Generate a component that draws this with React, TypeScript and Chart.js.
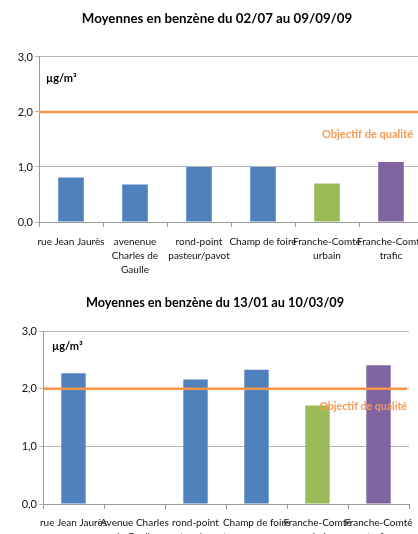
import React, { useEffect, useRef } from "react";
import { Chart, registerables } from "chart.js";

Chart.register(...registerables);

// ---------- data ----------
const TITLE_1 = "Moyennes en benzène du 02/07 au 09/09/09";
const CATEGORIES_1: string[][] = [
  ["rue Jean Jaurès"],
  ["avenenue", "Charles de", "Gaulle"],
  ["rond-point", "pasteur/pavot"],
  ["Champ de foire"],
  ["Franche-Comté", "urbain"],
  ["Franche-Comté", "trafic"],
];
const VALUES_1: (number | null)[] = [0.81, 0.68, 1.0, 1.0, 0.7, 1.09];

const TITLE_2 = "Moyennes en benzène du 13/01 au 10/03/09";
const CATEGORIES_2: string[][] = [
  ["rue Jean Jaurès"],
  ["Avenue Charles", "de Gaulle"],
  ["rond-point", "pasteur/pavot"],
  ["Champ de foire"],
  ["Franche-Comté", "urbain"],
  ["Franche-Comté", "trafic"],
];
const VALUES_2: (number | null)[] = [2.27, null, 2.16, 2.33, 1.71, 2.41];

const BAR_COLORS = ["#4F81BD", "#4F81BD", "#4F81BD", "#4F81BD", "#9BBB59", "#8064A2"];
const Y_MIN = 0;
const Y_MAX = 3;
const Y_STEP = 1;
const THRESHOLD = 2.0;
const THRESHOLD_LABEL = "Objectif de qualité";
const UNIT_LABEL = "µg/m³";

const FONT = "Lato, 'Open Sans', sans-serif";

const annotationPlugin = {
  id: "annot",
  afterDatasetsDraw(chart: any, _args: any, opts: any) {
    const { ctx, chartArea, scales } = chart;
    const y = scales.y;
    const py = y.getPixelForValue(opts.value);
    ctx.save();
    ctx.strokeStyle = "#F79646";
    ctx.lineWidth = 2.5;
    ctx.beginPath();
    ctx.moveTo(chartArea.left, py);
    ctx.lineTo(chartArea.right - (opts.lineEndInset || 0), py);
    ctx.stroke();

    ctx.fillStyle = "#F79A52";
    ctx.font = `bold ${opts.labelSize}px ${FONT}`;
    ctx.textAlign = "right";
    ctx.textBaseline = "middle";
    ctx.fillText(opts.label, chartArea.right - opts.labelRightInset, py + opts.labelDy);

    ctx.fillStyle = "#000";
    ctx.font = `bold 11px ${FONT}`;
    ctx.textAlign = "left";
    ctx.fillText(opts.unit, chartArea.left + opts.unitDx, chartArea.top + opts.unitDy);
    ctx.restore();
  },
};

type PanelProps = {
  title: string;
  titleSize: number;
  labels: string[][];
  values: (number | null)[];
  top: number;
  width: number;
  height: number;
  yWidth: number;
  xHeight: number;
  xPad: number;
  padLeft: number;
  padRight: number;
  titlePadTop: number;
  titlePadBottom: number;
  annot: any;
};

function Panel(p: PanelProps) {
  const ref = useRef<HTMLCanvasElement | null>(null);
  useEffect(() => {
    if (!ref.current) return;
    const chart = new Chart(ref.current, {
      type: "bar",
      data: {
        labels: p.labels,
        datasets: [
          {
            data: p.values,
            backgroundColor: BAR_COLORS,
            borderWidth: 0,
            categoryPercentage: 1,
            barPercentage: 0.4,
          },
        ],
      },
      options: {
        responsive: false,
        animation: false,
        devicePixelRatio: 1,
        layout: { padding: { left: p.padLeft, right: p.padRight, top: 0, bottom: 0 } },
        plugins: {
          legend: { display: false },
          tooltip: { enabled: false },
          title: {
            display: true,
            text: p.title,
            color: "#000",
            font: { family: FONT, size: p.titleSize, weight: "bold" },
            padding: { top: p.titlePadTop, bottom: p.titlePadBottom },
          },
          annot: p.annot,
        } as any,
        scales: {
          x: {
            offset: true,
            grid: { drawOnChartArea: false, tickLength: 5, color: "#9A9A9A", offset: true },
            border: { color: "#9A9A9A" },
            ticks: {
              color: "#111",
              font: { family: FONT, size: 10, lineHeight: 1.4 },
              maxRotation: 0,
              minRotation: 0,
              autoSkip: false,
              padding: p.xPad,
            },
            afterFit: (s: any) => {
              s.height = p.xHeight;
              s.paddingLeft = 0;
              s.paddingRight = 0;
            },
          },
          y: {
            min: Y_MIN,
            max: Y_MAX,
            grid: { color: "#B5B5B5", tickLength: 4 },
            border: { color: "#9A9A9A" },
            ticks: {
              stepSize: Y_STEP,
              color: "#111",
              font: { family: FONT, size: 11 },
              padding: 2,
              callback: (v: any) => Number(v).toFixed(1).replace(".", ","),
            },
            afterFit: (s: any) => {
              s.width = p.yWidth;
            },
          },
        },
      } as any,
      plugins: [annotationPlugin],
    });
    return () => chart.destroy();
  }, []);
  return (
    <canvas
      ref={ref}
      width={p.width}
      height={p.height}
      style={{ position: "absolute", left: 0, top: p.top, width: p.width, height: p.height }}
    />
  );
}

export default function App() {
  return (
    <div
      style={{
        position: "fixed",
        left: 0,
        top: 0,
        width: 418,
        height: 534,
        overflow: "hidden",
        background: "#fff",
      }}
    >
      <Panel
        title={TITLE_1}
        titleSize={13.3}
        labels={CATEGORIES_1}
        values={VALUES_1}
        top={0}
        width={433}
        height={285}
        yWidth={28}
        xHeight={63}
        xPad={8}
        padLeft={11}
        padRight={10}
        titlePadTop={11}
        titlePadBottom={30}
        annot={{
          value: THRESHOLD,
          label: THRESHOLD_LABEL,
          unit: UNIT_LABEL,
          labelSize: 11,
          labelRightInset: 10,
          labelDy: 22,
          unitDx: 7,
          unitDy: 21,
          lineEndInset: 0,
        }}
      />
      <Panel
        title={TITLE_2}
        titleSize={12.7}
        labels={CATEGORIES_2}
        values={VALUES_2}
        top={285}
        width={418}
        height={270}
        yWidth={22}
        xHeight={51}
        xPad={7}
        padLeft={21}
        padRight={9}
        titlePadTop={10}
        titlePadBottom={21}
        annot={{
          value: THRESHOLD,
          label: THRESHOLD_LABEL,
          unit: UNIT_LABEL,
          labelSize: 10.6,
          labelRightInset: 2,
          labelDy: 18,
          unitDx: 9,
          unitDy: 15,
          lineEndInset: 2,
        }}
      />
    </div>
  );
}
